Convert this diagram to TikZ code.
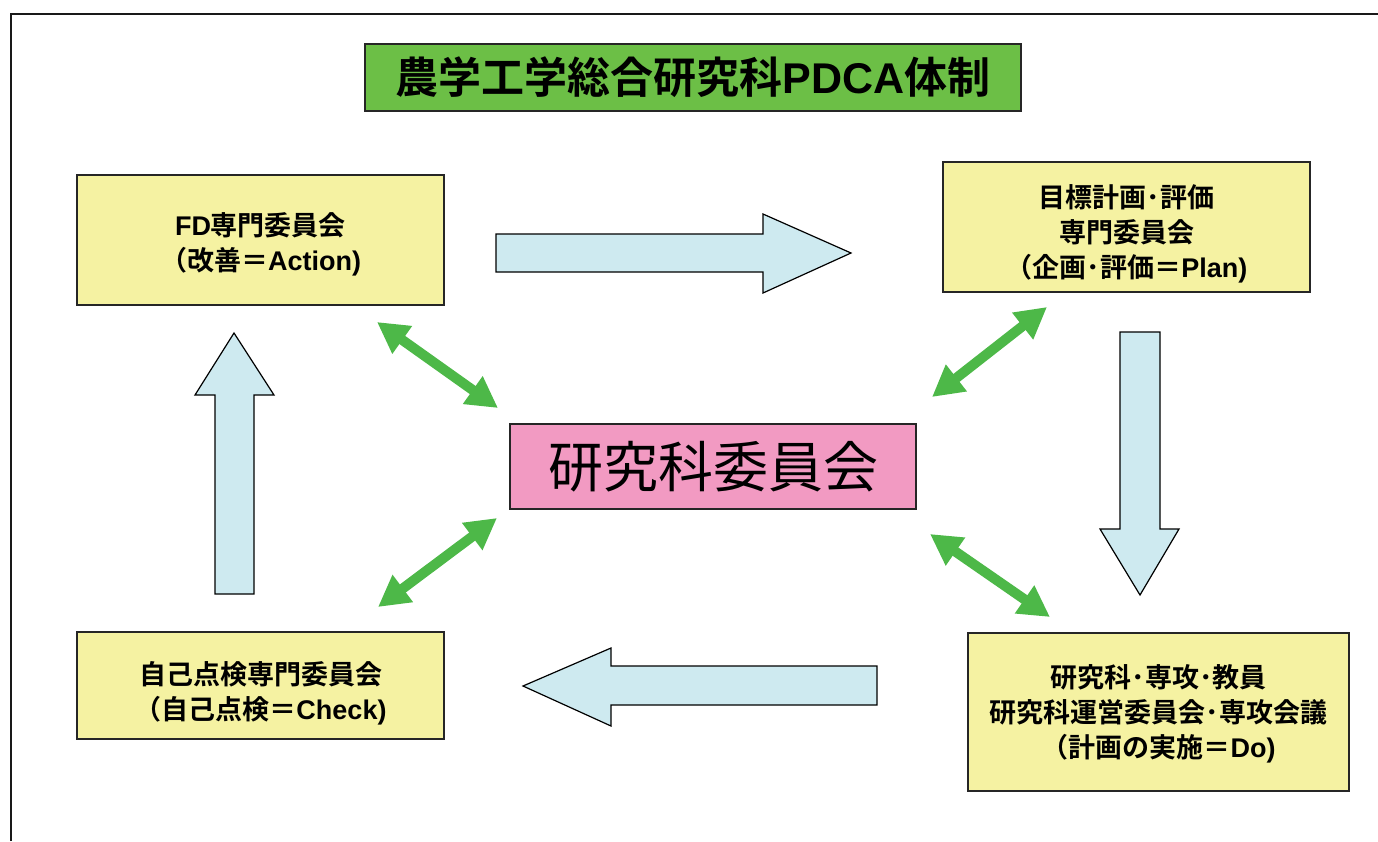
\documentclass[tikz,border=0pt]{standalone}
\usepackage{fontspec}
\setmainfont{Noto Sans CJK JP}[BoldFont={Noto Sans CJK JP Bold}]
\newfontfamily\lat{Liberation Sans}
\usetikzlibrary{arrows.meta}
\definecolor{boxyellow}{HTML}{F5F2A2}
\definecolor{titlegreen}{HTML}{6CBF46}
\definecolor{centerpink}{HTML}{F29AC2}
\definecolor{arrowblue}{HTML}{CEEAF0}
\definecolor{arrowgreen}{HTML}{4DB848}
\tikzset{
  box/.style={draw=black!85, line width=1.5pt, fill=boxyellow, inner sep=0pt},
  boxtext/.style={align=center, font=\fontsize{27}{35}\selectfont\bfseries, inner sep=0pt},
  titlebox/.style={draw=black!85, line width=1.5pt, fill=titlegreen,
    font=\fontsize{43}{50}\selectfont\bfseries, inner sep=0pt},
  centerbox/.style={draw=black!85, line width=1.5pt, fill=centerpink,
    font=\fontsize{55}{60}\selectfont, inner sep=0pt},
  blockarrow/.style={draw=black, line width=1.2pt, fill=arrowblue, line join=miter},
  garrow/.style={draw=arrowgreen, line width=10pt,
    {Triangle[length=31pt,width=32pt]}-{Triangle[length=31pt,width=32pt]}},
}
\begin{document}
\begin{tikzpicture}[x=1pt,y=-1pt]
\useasboundingbox (0,0) rectangle (1378,841);
% outer frame
\draw[line width=2.2pt, black!90] (11,841) -- (11,14) -- (1378,14);

% nodes
\node[titlebox, minimum width=656pt, minimum height=67pt] (title) at (693,77.5) {農学工学総合研究科{\lat PDCA}体制};
\node[box, minimum width=367pt, minimum height=130pt,
  label={[boxtext, yshift=-4pt]center:{{\lat FD}専門委員会\\（改善＝{\lat Action)}}}] (act) at (260.5,240) {};
\node[box, minimum width=367pt, minimum height=130pt,
  label={[boxtext, yshift=-7pt]center:{目標計画･評価\\専門委員会\\（企画･評価＝{\lat Plan)}}}] (plan) at (1126.5,227) {};
\node[centerbox, minimum width=406pt, minimum height=85pt] (ctr) at (713,466.5) {研究科委員会};
\node[box, minimum width=367pt, minimum height=107pt,
  label={[boxtext, yshift=-8pt]center:{自己点検専門委員会\\（自己点検＝{\lat Check)}}}] (chk) at (260.5,685.5) {};
\node[box, minimum width=381pt, minimum height=158pt,
  label={[boxtext, yshift=-2pt]center:{研究科･専攻･教員\\研究科運営委員会･専攻会議\\（計画の実施＝{\lat Do)}}}] (do) at (1158.5,712) {};

% block arrows (PDCA cycle)
\draw[blockarrow] (496,234) -- (763,234) -- (763,214) -- (851,253) -- (763,293) -- (763,272) -- (496,272) -- cycle;
\draw[blockarrow] (1120,332) -- (1160,332) -- (1160,529) -- (1179,529) -- (1140,595) -- (1100,529) -- (1120,529) -- cycle;
\draw[blockarrow] (877,666) -- (611,666) -- (611,648) -- (523,686) -- (611,726) -- (611,705) -- (877,705) -- cycle;
\draw[blockarrow] (215,594) -- (215,395) -- (195,395) -- (234,333) -- (274,395) -- (254,395) -- (254,594) -- cycle;

% green double arrows
\coordinate (actE) at (377,322);
\coordinate (ctrNW) at (498,408);
\coordinate (planE) at (1047,307);
\coordinate (ctrNE) at (932,397);
\coordinate (ctrSW) at (497,518);
\coordinate (chkE) at (378,607);
\coordinate (ctrSE) at (930,534);
\coordinate (doE) at (1050,617);
\draw[garrow] (actE) -- (ctrNW);
\draw[garrow] (planE) -- (ctrNE);
\draw[garrow] (ctrSW) -- (chkE);
\draw[garrow] (ctrSE) -- (doE);
\end{tikzpicture}
\end{document}
